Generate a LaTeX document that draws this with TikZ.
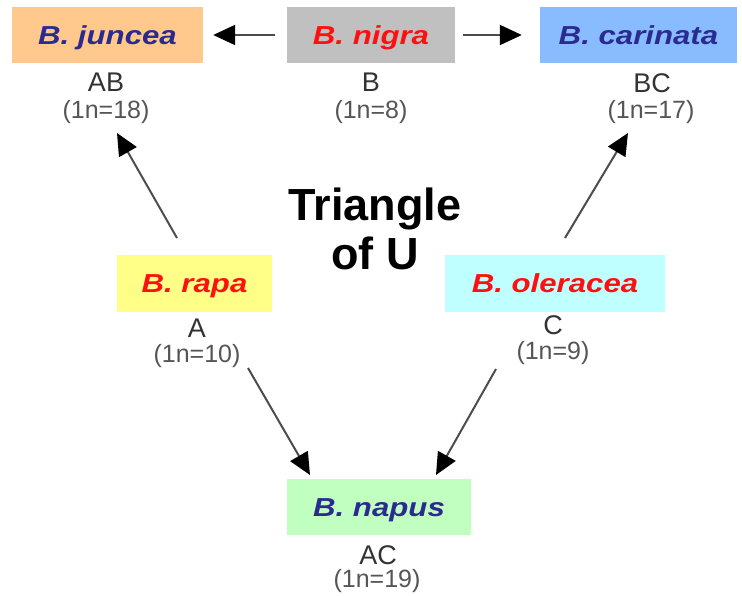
\documentclass[tikz,border=0pt]{standalone}
\usepackage{fontspec}
\usepackage{graphicx}
\setmainfont{Liberation Sans}
\usetikzlibrary{arrows.meta}
\definecolor{cjuncea}{HTML}{FFC88C}
\definecolor{cnigra}{HTML}{C0C0C0}
\definecolor{ccarinata}{HTML}{88BBFF}
\definecolor{crapa}{HTML}{FFFF88}
\definecolor{coleracea}{HTML}{C0FFFF}
\definecolor{cnapus}{HTML}{C0FFC0}
\definecolor{navy}{HTML}{2A2A90}
\definecolor{redtxt}{HTML}{FF1010}
\definecolor{lbl}{HTML}{333333}
\definecolor{cnt}{HTML}{555555}
\newcommand{\widetxt}[1]{\scalebox{1.2}[1]{#1}}
\tikzset{
  species/.style={draw=none, inner sep=0pt, text height=19pt, text depth=0pt,
    font=\fontsize{26}{28}\selectfont\bfseries\itshape},
  genome/.style={inner sep=0pt, text=lbl, font=\fontsize{27}{29}\selectfont},
  count/.style={inner sep=0pt, text=cnt, font=\fontsize{25}{27}\selectfont},
  titletxt/.style={inner sep=0pt, anchor=base, font=\fontsize{45}{49}\selectfont\bfseries},
  arr/.style={draw=black!70, line width=2pt, -{Triangle[length=22pt,width=20pt,color=black]}},
}
\begin{document}
\begin{tikzpicture}[x=1pt,y=-1pt]
\useasboundingbox (0,0) rectangle (742,596);
% boxes
\node[species, fill=cjuncea, text=navy, minimum width=191pt, minimum height=56pt] (juncea) at (107.5,35) {\widetxt{B. juncea}};
\node[species, fill=cnigra, text=redtxt, minimum width=168pt, minimum height=56pt] (nigra) at (371,35) {\widetxt{B. nigra}};
\node[species, fill=ccarinata, text=navy, minimum width=197pt, minimum height=56pt] (carinata) at (638.5,35) {\widetxt{B. carinata}};
\node[species, fill=crapa, text=redtxt, minimum width=155pt, minimum height=57pt] (rapa) at (194.5,283.5) {\widetxt{B. rapa}};
\node[species, fill=coleracea, text=redtxt, minimum width=220pt, minimum height=57pt] (oleracea) at (555,283.5) {\widetxt{B. oleracea}};
\node[species, fill=cnapus, text=navy, minimum width=184pt, minimum height=56pt] (napus) at (379,507) {\widetxt{B. napus}};
% genome labels
\node[genome] (gAB) at (106,82.5) {AB};
\node[count] (nAB) at (106,112.5) {(1n=18)};
\node[genome] (gB) at (371,82.5) {B};
\node[count] (nB) at (371,112.5) {(1n=8)};
\node[genome] (gBC) at (652,83) {BC};
\node[count] (nBC) at (651,112) {(1n=17)};
\node[genome] (gA) at (197,328) {A};
\node[count] (nA) at (197,356) {(1n=10)};
\node[genome] (gC) at (553,325) {C};
\node[count] (nC) at (553,353.5) {(1n=9)};
\node[genome] (gAC) at (378,555) {AC};
\node[count] (nAC) at (377,581) {(1n=19)};
% title
\node[titletxt] (title1) at (375,221) {Triangle};
\node[titletxt] (title2) at (375,270) {of U};
% arrow endpoints
\coordinate (s1) at (177,238);
\coordinate (t1) at (117,133);
\coordinate (s2) at (565,238);
\coordinate (t2) at (628,133);
\coordinate (s3) at (248,368);
\coordinate (t3) at (310,475);
\coordinate (s4) at (496,369);
\coordinate (t4) at (436,475);
% arrows
\draw[arr] ([xshift=-12pt]nigra.west) -- ([xshift=10pt]juncea.east);
\draw[arr] ([xshift=8pt]nigra.east) -- ([xshift=-18pt]carinata.west);
\draw[arr] (s1) -- (t1);
\draw[arr] (s2) -- (t2);
\draw[arr] (s3) -- (t3);
\draw[arr] (s4) -- (t4);
\end{tikzpicture}
\end{document}
